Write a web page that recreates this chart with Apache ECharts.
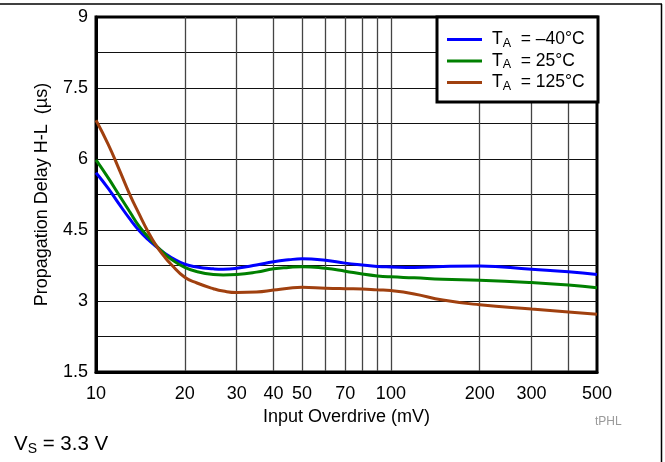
<!DOCTYPE html>
<html><head><meta charset="utf-8">
<script src="https://cdn.jsdelivr.net/npm/echarts@6/dist/echarts.min.js"></script>
<style>html,body{margin:0;padding:0;background:#fff}#c{width:665px;height:462px}</style>
</head><body><div id="c"></div>
<script>
const overdrive = [10,11,12,13,14,15,16,17,18,20,22,25,27,30,35,40,45,50,60,70,80,90,100,120,150,200,300,400,500];
const delayM40 = [5.71,5.38,5.04,4.74,4.49,4.30,4.15,4.02,3.92,3.78,3.72,3.68,3.67,3.69,3.76,3.83,3.87,3.89,3.86,3.80,3.76,3.73,3.72,3.71,3.73,3.74,3.67,3.62,3.56];
const delay25 = [5.98,5.60,5.23,4.89,4.58,4.36,4.17,4.01,3.88,3.71,3.62,3.56,3.55,3.56,3.61,3.68,3.71,3.725,3.69,3.63,3.57,3.53,3.51,3.49,3.46,3.44,3.39,3.34,3.28];
const delay125 = [6.82,6.31,5.77,5.26,4.84,4.47,4.17,3.95,3.77,3.50,3.38,3.26,3.21,3.18,3.19,3.23,3.27,3.29,3.27,3.26,3.255,3.235,3.22,3.15,3.02,2.92,2.83,2.77,2.72];
const seriesNames = ['–40°C','25°C','125°C'];
const seriesColors = ['#0000ff','#008000','#a0400f'];
const xGridValues = [20,30,40,50,60,70,80,90,100,200,300,400];
const xLabelValues = [10,20,30,40,50,70,100,200,300,500];
const yLabelValues = [1.5,3,4.5,6,7.5,9];

const FF = '"Liberation Sans", Arial, sans-serif';
const chart = echarts.init(document.getElementById('c'), null, {renderer:'canvas'});
const allData = [delayM40, delay25, delay125];
const option = {
  animation: false,
  backgroundColor: '#fff',
  grid: {left:96, right:68, top:17, bottom:90, show:true, borderColor:'#000', borderWidth:3, backgroundColor:'transparent'},
  xAxis: {
    type:'log', logBase:10, min:10, max:500,
    axisLine:{show:true, onZero:false, lineStyle:{color:'#000', width:3}},
    axisTick:{show:false, customValues:xGridValues},
    splitLine:{show:true, lineStyle:{color:'#444', width:1.3}},
    minorTick:{show:false}, minorSplitLine:{show:false},
    axisLabel:{customValues:xLabelValues, margin:13, fontSize:18, color:'#000', fontFamily:FF},
    name:'Input Overdrive (mV)', nameLocation:'middle', nameGap:33,
    nameTextStyle:{fontSize:18, color:'#000', fontFamily:FF}
  },
  yAxis: {
    type:'value', min:1.5, max:9, interval:0.75,
    axisLine:{show:true, lineStyle:{color:'#000', width:3}},
    axisTick:{show:false},
    splitLine:{show:true, showMinLine:false, showMaxLine:false, lineStyle:{color:'#111', width:1}},
    axisLabel:{margin:8, fontSize:18, color:'#000', fontFamily:FF,
      formatter: v => yLabelValues.some(t => Math.abs(t - v) < 1e-6) ? String(v) : ''},
    name:'Propagation Delay H-L  (µs)', nameLocation:'middle', nameGap:45, nameRotate:90,
    nameTextStyle:{fontSize:18, color:'#000', fontFamily:FF}
  },
  legend: {
    orient:'vertical', left:442, top:24, padding:5, itemGap:0.5,
    itemWidth:35, itemHeight:3, icon:'rect', z:5,
    data: seriesNames,
    formatter: name => '{T|T}{s|A}{t|  = ' + name + '}',
    textStyle:{fontFamily:FF, color:'#000', rich:{
      T:{fontSize:17.5, fontFamily:FF, color:'#000', lineHeight:20, padding:[0,0,0,5]},
      t:{fontSize:17.5, fontFamily:FF, color:'#000', lineHeight:20},
      s:{fontSize:12.5, fontFamily:FF, color:'#000', lineHeight:12, padding:[8,0,0,0]}
    }}
  },
  series: seriesNames.map((n,i) => ({
    type:'line', name:n, smooth:true, symbol:'none', z:2,
    data: overdrive.map((x,j) => [x, allData[i][j]]),
    lineStyle:{width:3, color:seriesColors[i]}, itemStyle:{color:seriesColors[i]}
  })),
  graphic: [
    {type:'rect', z:3, shape:{x:437, y:17, width:161, height:85}, style:{fill:'#fff', stroke:'#000', lineWidth:3}},
    {type:'line', z:3, shape:{x1:0, y1:4, x2:662, y2:4}, style:{stroke:'#000', lineWidth:1.5}},
    {type:'line', z:3, shape:{x1:661.5, y1:4, x2:661.5, y2:462}, style:{stroke:'#000', lineWidth:1.5}},
    {type:'text', z:3, left:14, top:433, style:{text:'{a|V}{b|S}{a| = 3.3 V}', rich:{
      a:{fontSize:20.5, fontFamily:FF, fill:'#000', lineHeight:25},
      b:{fontSize:14, fontFamily:FF, fill:'#000', lineHeight:14, padding:[9,0,0,0]}
    }}},
    {type:'text', z:3, left:595, top:416, style:{text:'tPHL', fontSize:12, fontFamily:FF, fill:'#999'}}
  ]
};
chart.setOption(option);
</script></body></html>
